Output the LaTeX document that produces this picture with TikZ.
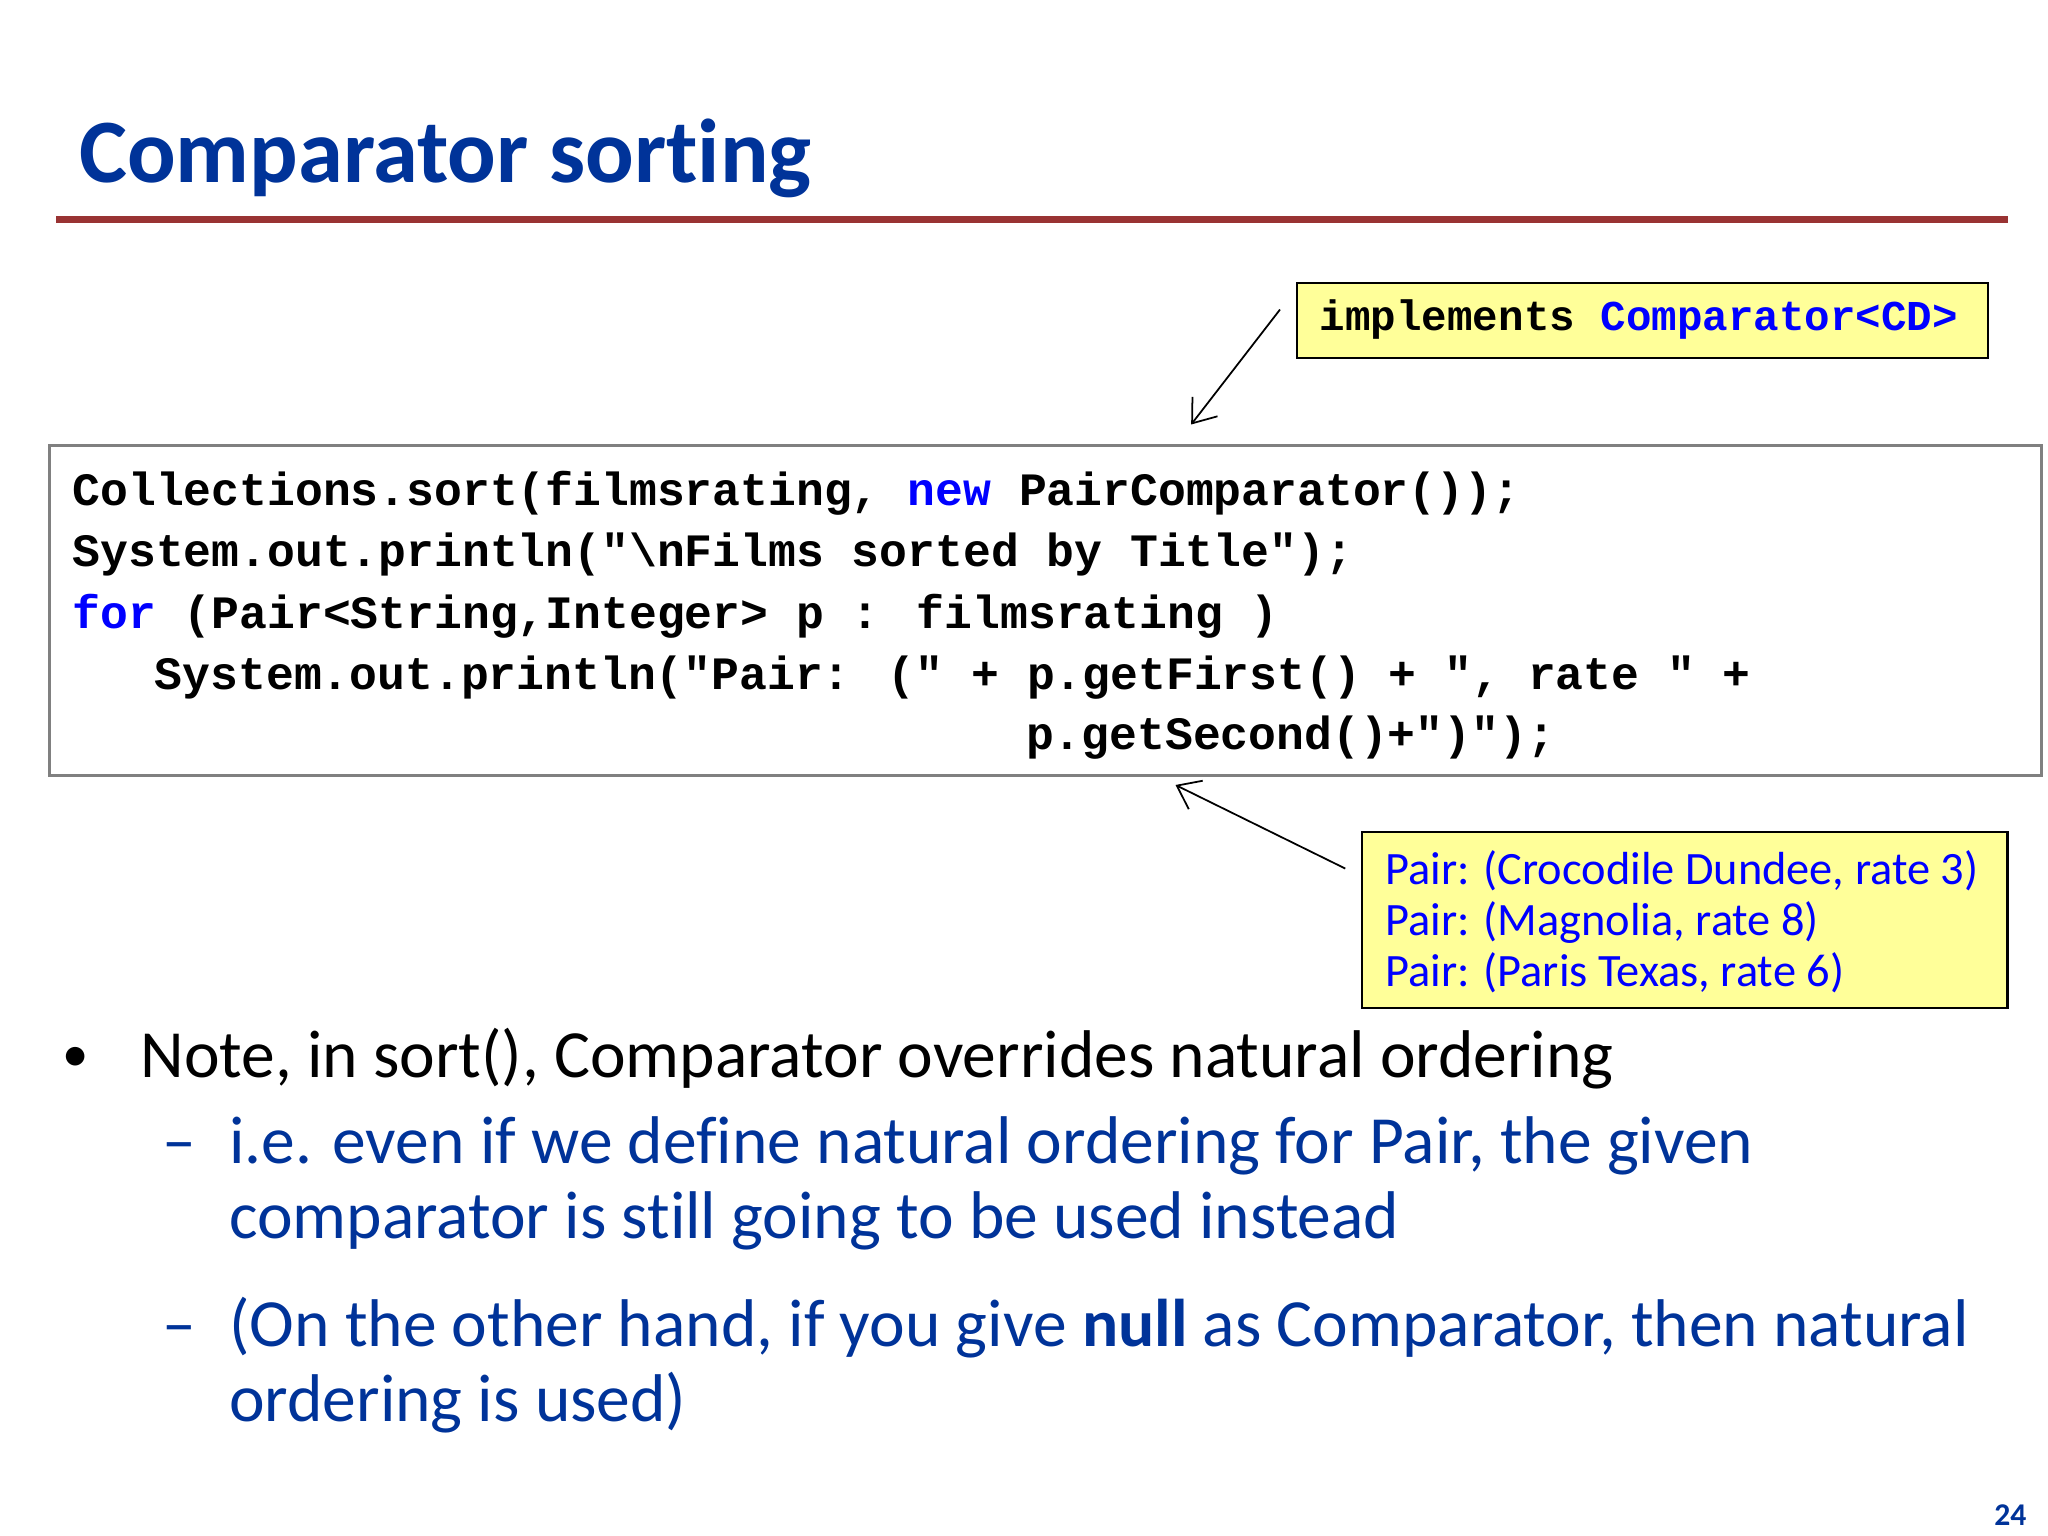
\documentclass[tikz,border=0pt]{standalone}
\usepackage{fontspec}
\setmainfont{Carlito}[Ligatures=NoCommon]
\newfontfamily\codefont{Liberation Mono}
\usetikzlibrary{arrows.meta}
\definecolor{titleblue}{RGB}{0,51,153}
\definecolor{kw}{RGB}{0,0,255}
\definecolor{redline}{RGB}{153,51,51}
\definecolor{noteyellow}{RGB}{255,255,153}
\tikzset{
  code/.style={anchor=base west,inner sep=0pt,font=\codefont\bfseries\fontsize{13.2pt}{17pt}\selectfont},
  body/.style={anchor=base west,inner sep=0pt,font=\fontsize{19.2pt}{23pt}\selectfont},
  outtext/.style={anchor=base west,inner sep=0pt,text=kw,font=\fontsize{13.2pt}{16pt}\selectfont},
  arr/.style={->,>={Straight Barb[length=6pt,width=9pt]},line width=0.5pt}
}
\begin{document}
\begin{tikzpicture}[x=0.01306cm,y=-0.01306cm]
\useasboundingbox (0,0) rectangle (1568,1176);
\node[anchor=base west,inner sep=0pt,text=titleblue,font=\bfseries\fontsize{25.8pt}{30pt}\selectfont] (title) at (60,140) {Comparator sorting};
\draw[redline,line width=2pt] (43,168) -- (1537,168);
% top note
\draw[fill=noteyellow,line width=0.6pt] (993,217) rectangle (1522,274);
\node[anchor=base west,inner sep=0pt,font=\codefont\bfseries\fontsize{12.1pt}{15pt}\selectfont] (impltxt) at (1010,253) {implements \textcolor{kw}{Comparator<CD>}};
\coordinate (a1s) at (980,237);
\coordinate (a1e) at (912,325);
\draw[arr] (a1s) -- (a1e);
% code box
\draw[gray,line width=0.8pt] (38,341) rectangle (1563,594);
\node[code] (c1) at (55,387) {Collections.sort(filmsrating, \textcolor{kw}{new} PairComparator());};
\node[code] (c2) at (55,434) {System.out.println("\textbackslash nFilms sorted by Title");};
\node[code] (c3) at (55,481) {\textcolor{kw}{for} (Pair<String,Integer> p : filmsrating )};
\node[code] (c4) at (118,528) {System.out.println("Pair: (" + p.getFirst() + ", rate " +};
\node[code] (c5) at (785,574) {p.getSecond()+")");};
% output note
\draw[fill=noteyellow,line width=0.6pt] (1043,637) rectangle (1537,772);
\node[outtext] (o1) at (1060,677) {Pair: (Crocodile Dundee, rate 3)};
\node[outtext] (o2) at (1060,716) {Pair: (Magnolia, rate 8)};
\node[outtext] (o3) at (1060,755) {Pair: (Paris Texas, rate 6)};
\coordinate (a2s) at (1030,665);
\coordinate (a2e) at (900,601);
\draw[arr] (a2s) -- (a2e);
% bullets
\node[body,font=\fontsize{15pt}{18pt}\selectfont] (b0) at (47,820) {•};
\node[body] (b1) at (107,825) {Note, in sort(), Comparator overrides natural ordering};
\node[body,text=titleblue] (d1) at (124,891) {–};
\node[body,text=titleblue] (s1) at (175,891) {i.e. even if we define natural ordering for Pair, the given};
\node[body,text=titleblue] (s2) at (175,948) {comparator is still going to be used instead};
\node[body,text=titleblue] (d2) at (124,1031) {–};
\node[body,text=titleblue] (s3) at (175,1031) {(On the other hand, if you give \textbf{null} as Comparator, then natural};
\node[body,text=titleblue] (s4) at (175,1088) {ordering is used)};
\node[anchor=base east,inner sep=0pt,text=titleblue,font=\bfseries\fontsize{9pt}{11pt}\selectfont] (pg) at (1552,1168) {24};
\end{tikzpicture}
\end{document}
